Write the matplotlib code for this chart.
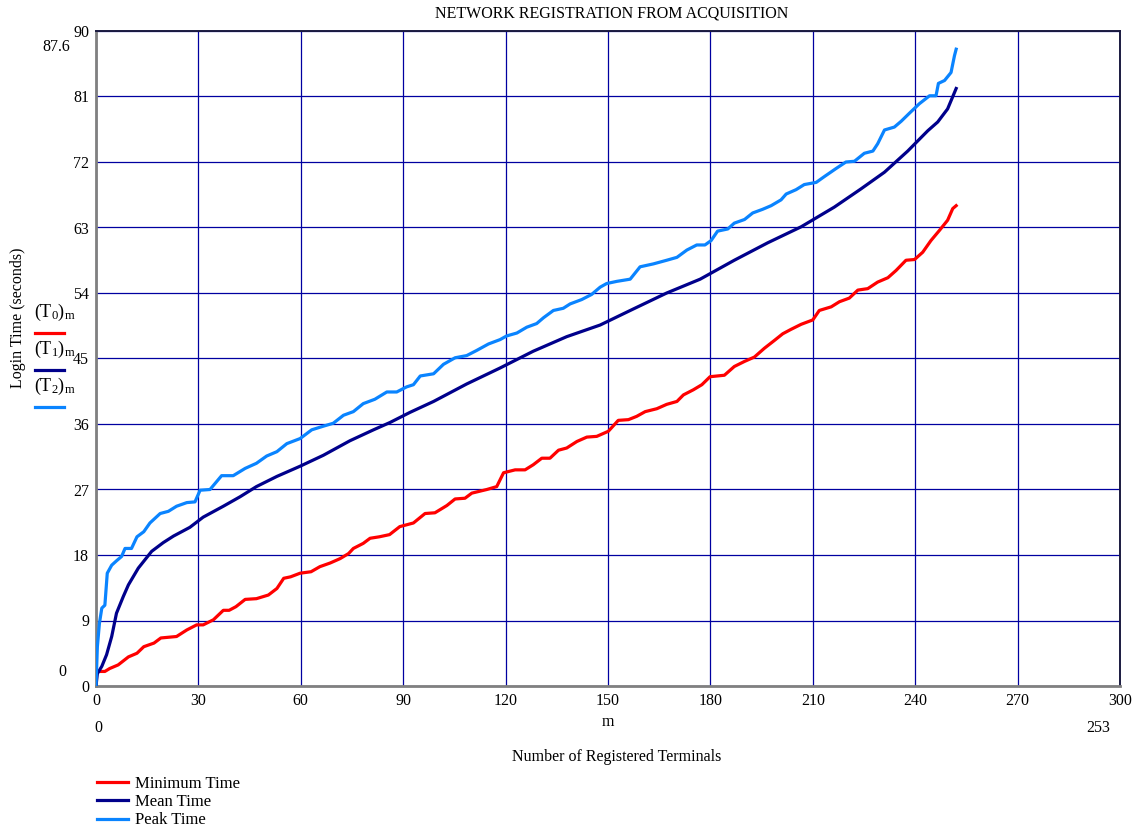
import matplotlib
matplotlib.use("Agg")
import matplotlib.pyplot as plt
from matplotlib.lines import Line2D

plt.rcParams['font.family'] = ['Liberation Serif', 'DejaVu Serif']
plt.rcParams['mathtext.fontset'] = 'custom'
plt.rcParams['mathtext.rm'] = 'Liberation Serif'
plt.rcParams['mathtext.it'] = 'Liberation Serif:italic'

# minimum time (T0)
m_min = [0, 2.6, 4, 6.5, 9.5, 12, 14, 17, 19, 23.6,
         26.6, 29.5, 31.4, 34.4, 37.3, 39, 41, 43.7, 47, 50.5,
         53, 55, 57, 59.8, 63, 65.6, 68.6, 71.5, 74, 75.4,
         78.3, 80.3, 83, 86, 89, 93, 96.4, 99.3, 102.8, 105.2,
         108.1, 110.1, 114.5, 117.4, 119.4, 122.8, 125.7, 128.1, 130.6, 133,
         135.5, 137.9, 140.9, 143.8, 146.7, 150.1, 153, 156, 158.4, 160.9,
         164.3, 167.2, 170.2, 172.1, 175, 177.5, 179.9, 184.1, 187, 190,
         192.9, 195.8, 198.8, 201.2, 203.6, 206.6, 210, 211.9, 215.4, 217.8,
         220.7, 223.2, 226.1, 229, 232, 234.4, 237.3, 239.8, 242.2, 244.6,
         247.1, 249.5, 251, 252]
t_min = [2.0, 2.0, 2.4, 2.9, 4.0, 4.5, 5.4, 5.9, 6.6, 6.8,
         7.7, 8.4, 8.4, 9.1, 10.4, 10.4, 10.9, 11.9, 12.0, 12.5,
         13.4, 14.8, 15.0, 15.5, 15.7, 16.4, 16.9, 17.5, 18.2, 18.9,
         19.6, 20.3, 20.5, 20.8, 21.9, 22.4, 23.7, 23.8, 24.8, 25.7,
         25.8, 26.5, 27.0, 27.4, 29.3, 29.7, 29.7, 30.4, 31.3, 31.3,
         32.4, 32.7, 33.6, 34.2, 34.3, 35.0, 36.5, 36.6, 37.05, 37.7,
         38.1, 38.7, 39.1, 40.0, 40.7, 41.4, 42.5, 42.7, 43.9, 44.6,
         45.2, 46.4, 47.5, 48.4, 49.0, 49.7, 50.3, 51.6, 52.1, 52.8,
         53.3, 54.4, 54.6, 55.5, 56.1, 57.1, 58.5, 58.6, 59.6, 61.2,
         62.6, 64.0, 65.6, 66.0]

# mean time (T1)
m_mean = [0, 0.4, 1.7, 3.1, 4.6, 6, 8, 9.5, 12.4, 16.3,
          19.7, 22.7, 27.5, 31.4, 37.3, 42.2, 47, 53, 59.8, 66.6,
          74.4, 81.3, 86.1, 92, 98.9, 108.6, 118.4, 128.1, 137.9, 147.7,
          157.4, 167.2, 177, 187, 196.8, 206.6, 216.3, 224.1, 231, 237.8,
          243.7, 246.6, 249.5, 252]
t_mean = [0, 1.7, 2.7, 4.3, 6.8, 10.0, 12.3, 13.9, 16.2, 18.5,
          19.7, 20.6, 21.8, 23.2, 24.7, 26.0, 27.4, 28.8, 30.2, 31.7,
          33.7, 35.2, 36.2, 37.6, 39.1, 41.5, 43.7, 46.0, 48.0, 49.6,
          51.8, 54.0, 55.9, 58.5, 60.9, 63.1, 65.8, 68.3, 70.6, 73.5,
          76.3, 77.5, 79.3, 82.1]

# peak time (T2)
m_peak = [0, 0.4, 1, 1.7, 2.6, 3.3, 4.6, 6, 7.5, 8.5,
          10.4, 12, 14, 15.8, 18.8, 21.2, 23.6, 26.6, 29, 30.5,
          33.4, 36.8, 40.2, 43.7, 47, 50, 53, 55.9, 59.8, 63.2,
          66.6, 69.5, 72.5, 75.4, 78.3, 81.7, 85.2, 88.1, 91, 93,
          95, 98.9, 101.8, 105.2, 108.6, 111.5, 115, 118.4, 120.3, 123.3,
          126.2, 129.1, 131.1, 134, 136.9, 138.9, 142.3, 145.2, 147.7, 149.6,
          152.6, 156.5, 159.4, 163.3, 167.2, 170.2, 173.1, 176, 178.4, 180.2,
          182.1, 185.1, 187, 190, 192.4, 195.3, 197.8, 200.7, 202.2, 205.1,
          207.5, 211, 213.4, 216.8, 219.7, 222.2, 225.1, 227.6, 229, 231,
          233.9, 235.9, 238.3, 241.2, 244.2, 246.1, 246.8, 248.6, 250.5, 251.5,
          252]
t_peak = [0, 5.4, 8.6, 10.7, 11.1, 15.5, 16.6, 17.2, 17.8, 18.9,
          18.9, 20.5, 21.2, 22.4, 23.7, 24.0, 24.7, 25.2, 25.3, 26.9,
          27.0, 28.9, 28.9, 29.9, 30.6, 31.6, 32.2, 33.3, 34.0, 35.2,
          35.7, 36.1, 37.2, 37.7, 38.8, 39.4, 40.4, 40.4, 41.1, 41.4,
          42.6, 42.9, 44.2, 45.1, 45.4, 46.1, 47.0, 47.6, 48.1, 48.5,
          49.3, 49.8, 50.6, 51.6, 51.9, 52.5, 53.1, 53.8, 54.8, 55.3,
          55.6, 55.9, 57.6, 58.0, 58.5, 58.9, 59.9, 60.6, 60.6, 61.2,
          62.5, 62.8, 63.6, 64.1, 65.0, 65.5, 66.0, 66.8, 67.6, 68.2,
          68.9, 69.2, 70.0, 71.1, 72.0, 72.1, 73.2, 73.5, 74.5, 76.4,
          76.8, 77.6, 78.7, 80.0, 81.1, 81.1, 82.8, 83.2, 84.3, 86.6,
          87.5]

x_ticks = [0, 30, 60, 90, 120, 150, 180, 210, 240, 270, 300]
y_ticks = [0, 9, 18, 27, 36, 45, 54, 63, 72, 81, 90]

RED = '#ff0000'
NAVY = '#00008b'
LIGHT = '#0a84ff'
W, H = 1141, 830


def fx(px):
    return px / W


def fy(py):
    return 1 - py / H


fig = plt.figure(figsize=(11.41, 8.30), dpi=100)
ax = fig.add_axes([fx(96), fy(686), fx(1120) - fx(96), fy(31) - fy(686)])

l0, = ax.plot(m_min, t_min, color=RED, lw=2.3, label='Minimum Time', zorder=3)
l1, = ax.plot(m_mean, t_mean, color=NAVY, lw=2.3, label='Mean Time', zorder=3)
l2, = ax.plot(m_peak, t_peak, color=LIGHT, lw=2.3, label='Peak Time', zorder=3)

ax.set_xlim(0, 300)
ax.set_ylim(0, 90)
ax.set_xticks(x_ticks)
ax.set_yticks(y_ticks)
ax.grid(True, color='#0000a0', lw=0.9)
ax.set_axisbelow(True)
ax.tick_params(length=0, labelsize=11.5, pad=5)
for s in ['left', 'bottom']:
    ax.spines[s].set_color('#808080')
    ax.spines[s].set_linewidth(2)
for s in ['top', 'right']:
    ax.spines[s].set_color('#1a1a40')
    ax.spines[s].set_linewidth(1.4)

fig.text(fx(612), fy(13), 'NETWORK REGISTRATION FROM ACQUISITION',
         ha='center', va='center', fontsize=11.5)
fig.text(fx(18), fy(318), 'Login Time (seconds)', rotation=90,
         ha='center', va='center', fontsize=11.5)
fig.text(fx(617), fy(757), 'Number of Registered Terminals',
         ha='center', va='center', fontsize=11.5)
fig.text(fx(608), fy(722), 'm', ha='center', va='center', fontsize=11.5)

# range markers
fig.text(fx(70), fy(47), '87.6', ha='right', va='center', fontsize=11.5)
fig.text(fx(66), fy(672), '0', ha='right', va='center', fontsize=11.5)
fig.text(fx(94), fy(728), '0', ha='left', va='center', fontsize=11.5)
fig.text(fx(1110), fy(728), '253', ha='right', va='center', fontsize=11.5)

# trace labels on the left
traces = [(r'$(\mathrm{T}_0)_\mathrm{m}$', RED, 312, 333),
          (r'$(\mathrm{T}_1)_\mathrm{m}$', NAVY, 349, 370),
          (r'$(\mathrm{T}_2)_\mathrm{m}$', LIGHT, 386, 407)]
for txt, c, ty, ly in traces:
    fig.text(fx(34), fy(ty), txt, ha='left', va='center', fontsize=13)
    fig.add_artist(Line2D([fx(35), fx(64)], [fy(ly), fy(ly)], color=c, lw=2.3,
                          transform=fig.transFigure))

fig.legend(handles=[l0, l1, l2], loc='upper left',
           bbox_to_anchor=(fx(97), fy(776)), frameon=False,
           fontsize=12, handlelength=1.85, handletextpad=0.45,
           labelspacing=0.13, borderpad=0, borderaxespad=0)

fig.savefig('out.png', dpi=100)
